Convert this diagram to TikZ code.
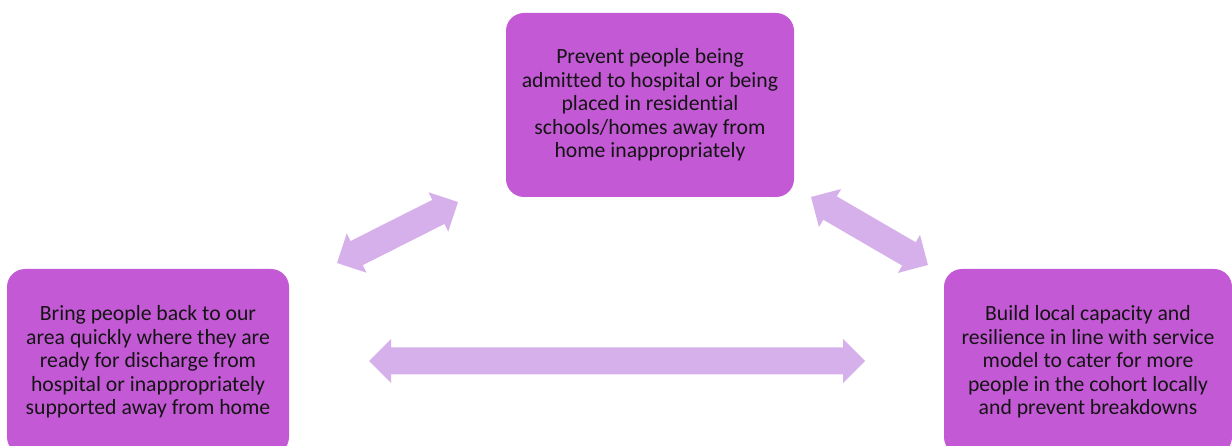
\documentclass[tikz,border=0pt]{standalone}
\usepackage{fontspec}
\setmainfont{Carlito}[Ligatures=NoCommon]
\definecolor{boxfill}{RGB}{196,89,214}
\definecolor{arrowfill}{RGB}{214,176,234}
\definecolor{txt}{RGB}{20,20,20}
\newcommand{\twowayarrow}[4]{%
  % #1 start coordinate name, #2 angle, #3 length, #4 shaft half-width
  \begin{scope}[shift={(#1)}, rotate=#2]
    \fill[arrowfill] (0,0) -- (22,22) -- (22,#4) -- (#3-22,#4) -- (#3-22,22) -- (#3,0)
      -- (#3-22,-22) -- (#3-22,-#4) -- (22,-#4) -- (22,-22) -- cycle;
  \end{scope}}
\begin{document}
\begin{tikzpicture}[x=1pt,y=1pt,
  goalbox/.style={rectangle, rounded corners=18pt, fill=boxfill, draw=none,
    text=txt, align=center, inner sep=0pt,
    font=\fontsize{21.7}{23.6}\selectfont}]
\useasboundingbox (0,0) rectangle (1232,-446);
\clip (0,0) rectangle (1232,-446);

\node[goalbox, minimum width=288pt, minimum height=184pt] (top) at (650,-105)
  {Prevent people being\\admitted to hospital or being\\placed in residential\\schools/homes away from\\home inappropriately};
\node[goalbox, minimum width=282pt, minimum height=186pt] (left) at (148,-362)
  {Bring people back to our\\area quickly where they are\\ready for discharge from\\hospital or inappropriately\\supported away from home};
\node[goalbox, minimum width=288pt, minimum height=186pt] (right) at (1088,-362)
  {Build local capacity and\\resilience in line with service\\model to cater for more\\people in the cohort locally\\and prevent breakdowns};

\coordinate (la) at (337,-263);
\coordinate (ra) at (811,-197);
\coordinate (ha) at (369,-361);
\twowayarrow{la}{26.75}{135.5}{13.5}
\twowayarrow{ra}{-30.16}{135.3}{13.5}
\twowayarrow{ha}{0}{496}{13.5}
\end{tikzpicture}
\end{document}
